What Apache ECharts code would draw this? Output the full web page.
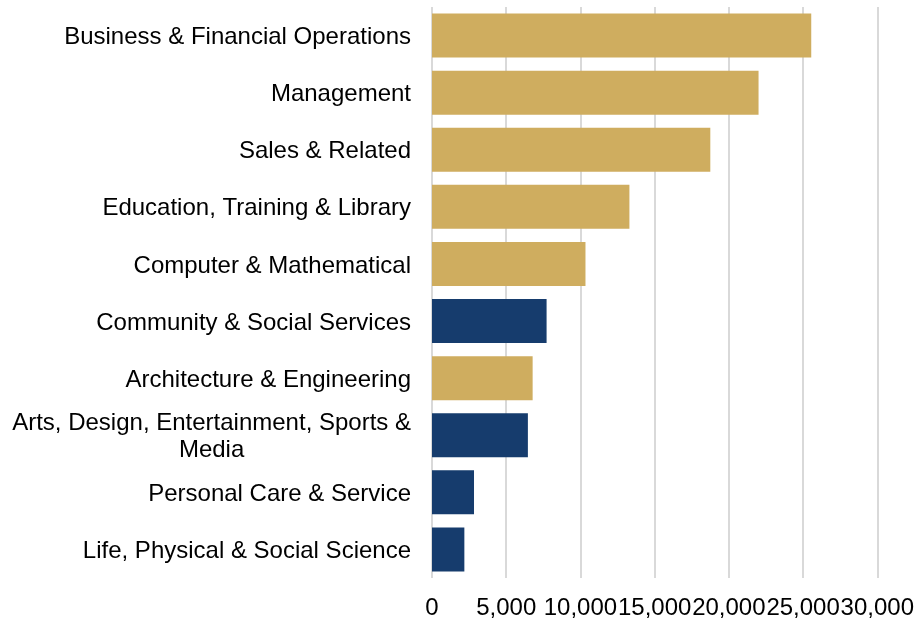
<!DOCTYPE html>
<html>
<head>
<meta charset="utf-8">
<script src="https://cdn.jsdelivr.net/npm/echarts@6/dist/echarts.min.js"></script>
<style>
  html, body { margin: 0; padding: 0; background: #ffffff; }
  #chart { width: 917px; height: 620px; }
</style>
</head>
<body>
<div id="chart"></div>
<script>
// Occupation groups, top to bottom
var categories = [
  'Business & Financial Operations',
  'Management',
  'Sales & Related',
  'Education, Training & Library',
  'Computer & Mathematical',
  'Community & Social Services',
  'Architecture & Engineering',
  'Arts, Design, Entertainment, Sports & Media',
  'Personal Care & Service',
  'Life, Physical & Social Science'
];
var values = [25550, 22000, 18750, 13300, 10340, 7720, 6780, 6460, 2830, 2180];
// 0 = first group, 1 = second group
var groups = [0, 0, 0, 0, 0, 1, 0, 1, 1, 1];
var xTicks = [0, 5000, 10000, 15000, 20000, 25000, 30000];

var groupColors = ['#CFAD5F', '#163C6D'];
var FONT = '"Liberation Sans", Arial, sans-serif';

// Long names wrap onto two centred lines
var wrapped = {
  'Arts, Design, Entertainment, Sports & Media': ['Arts, Design, Entertainment, Sports &', 'Media']
};

var chart = echarts.init(document.getElementById('chart'), null, { renderer: 'canvas' });

chart.setOption({
  animation: false,
  backgroundColor: '#ffffff',
  grid: { left: 432, right: 39, top: 7, bottom: 42, containLabel: false },
  xAxis: {
    type: 'value',
    min: xTicks[0],
    max: xTicks[xTicks.length - 1],
    interval: xTicks[1] - xTicks[0],
    axisLine: { show: false },
    axisTick: { show: false },
    splitLine: { show: true, lineStyle: { color: '#d9d9d9', width: 2 } },
    axisLabel: {
      color: '#000000',
      fontFamily: FONT,
      fontSize: 24,
      margin: 18,
      formatter: function (v) { return v.toLocaleString('en-US'); }
    }
  },
  yAxis: {
    type: 'category',
    inverse: true,
    data: categories,
    axisLine: { show: false },
    axisTick: { show: false },
    splitLine: { show: false },
    axisLabel: {
      color: '#000000',
      fontFamily: FONT,
      fontSize: 24,
      margin: 21,
      lineHeight: 27,
      padding: [4, 0, 0, 0],
      formatter: function (name) {
        if (wrapped[name]) {
          return wrapped[name].map(function (s) { return '{c|' + s + '}'; }).join('\n');
        }
        return name;
      },
      rich: {
        c: { align: 'center', fontFamily: FONT, fontSize: 24, lineHeight: 27, color: '#000000' }
      }
    }
  },
  series: [{
    type: 'bar',
    data: values.map(function (v, i) {
      return { value: v, itemStyle: { color: groupColors[groups[i]] } };
    }),
    barCategoryGap: '23%',
    z: 3
  }]
});
</script>
</body>
</html>
